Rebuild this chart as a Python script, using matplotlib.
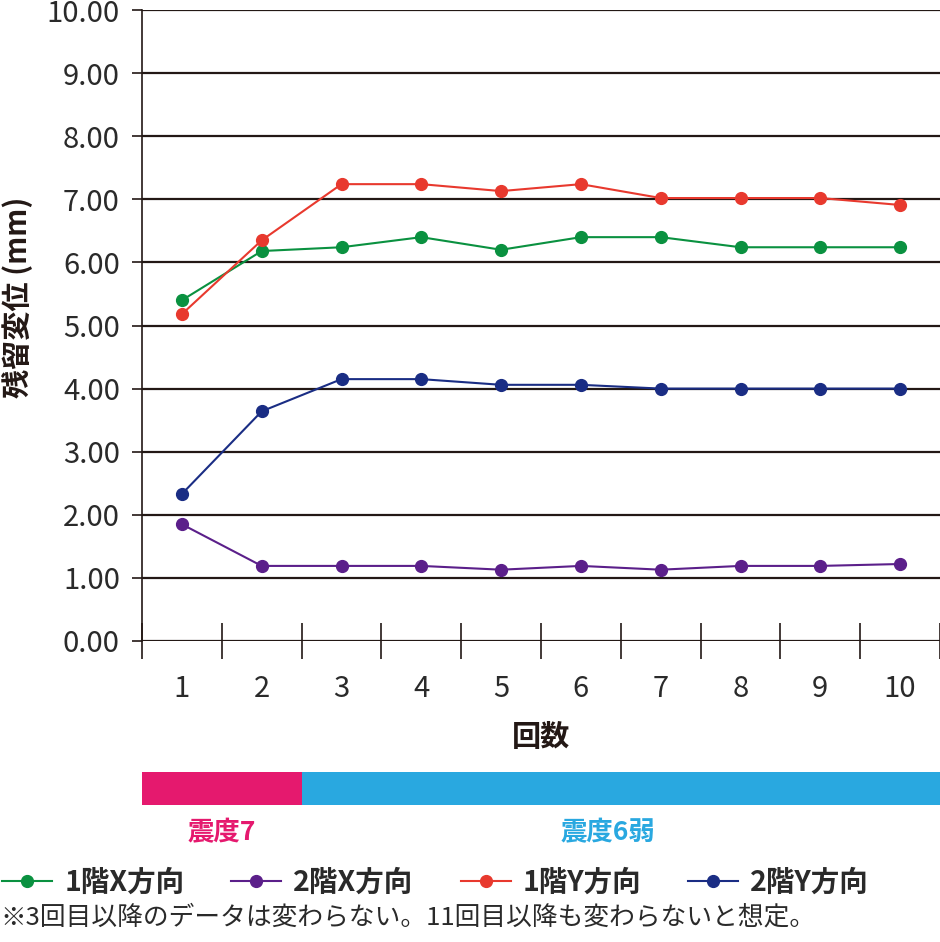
import numpy as np
import matplotlib
matplotlib.use('Agg')
import matplotlib.pyplot as plt
from matplotlib.lines import Line2D

plt.rcParams['font.family'] = ['Noto Sans CJK JP', 'DejaVu Sans']

# data
rounds = list(range(1, 11))
f1_x = [5.40, 6.18, 6.24, 6.40, 6.20, 6.40, 6.40, 6.24, 6.24, 6.24]
f2_x = [1.85, 1.19, 1.19, 1.19, 1.13, 1.19, 1.13, 1.19, 1.19, 1.22]
f1_y = [5.18, 6.35, 7.24, 7.24, 7.13, 7.24, 7.02, 7.02, 7.02, 6.91]
f2_y = [2.33, 3.64, 4.15, 4.15, 4.06, 4.06, 4.00, 4.00, 4.00, 4.00]
series_names = ['1階X方向', '2階X方向', '1階Y方向', '2階Y方向']
y_ticks = [0, 1, 2, 3, 4, 5, 6, 7, 8, 9, 10]
# seismic intensity bands (label, start, end round)
bands = [('震度7', 0.5, 2.5), ('震度6弱', 2.5, 10.5)]

colors = ['#0a9140', '#5b1f8a', '#e8392e', '#1a2d84']
band_colors = ['#e5196e', '#29a8e0']
text_dark = '#2a2a2a'
ink = '#231815'

fig = plt.figure(figsize=(9.4, 9.42), dpi=100)
ax = fig.add_axes([142 / 940, 1 - 641 / 942, 1 - 142 / 940, 631 / 942])

for vals, c, name in zip([f1_x, f2_x, f1_y, f2_y], colors, series_names):
    ax.plot(rounds, vals, color=c, lw=1.5, marker='o', ms=8.5, label=name,
            clip_on=False, zorder=3)

ax.set_xlim(0.5, 10.5)
ax.set_ylim(0, 10)
ax.set_yticks(y_ticks)
ax.set_yticklabels([f'{v:.2f}' for v in y_ticks], fontsize=21, color=text_dark)
ax.tick_params(axis='y', length=7, width=1.2, color=ink, direction='out', pad=9)
for v in y_ticks:
    ax.axhline(v, color=ink, lw=1.6, zorder=1)

# boundary ticks and centred labels
ax.set_xticks(np.arange(0.5, 11, 1))
ax.set_xticklabels([])
ax.tick_params(axis='x', which='major', direction='inout', length=26, width=1.2,
               color=ink)
ax.set_xticks(rounds, minor=True)
ax.set_xticklabels([str(r) for r in rounds], minor=True, fontsize=21, color=text_dark)
ax.tick_params(axis='x', which='minor', length=0, pad=24)
ax.set_xlabel('回数', fontsize=21, fontweight='bold', color=ink, labelpad=13)
ax.set_ylabel('残留変位 (mm)', fontsize=21, fontweight='bold', color=ink)
ax.yaxis.set_label_coords(-0.136, 0.545)

for side in ['top', 'right']:
    ax.spines[side].set_visible(False)
ax.spines['left'].set_color(ink)
ax.spines['left'].set_linewidth(1.2)
ax.spines['bottom'].set_visible(False)

# intensity band
bax = fig.add_axes([142 / 940, 1 - 805 / 942, 1 - 142 / 940, 33 / 942])
bax.set_xlim(0.5, 10.5)
bax.set_ylim(0, 1)
label_shift = [0.0, -0.16]
for (label, a, b), c, s in zip(bands, band_colors, label_shift):
    bax.barh(0.5, b - a, left=a, height=1, color=c)
    bax.text((a + b) / 2 + s, -0.85, label, color=c,
             fontsize=19, fontweight='bold', ha='center', va='center')
bax.axis('off')

handles = [Line2D([0], [0], color=c, lw=1.5, marker='o', ms=8.5) for c in colors]
leg = fig.legend(handles, series_names, loc='center left',
                 bbox_to_anchor=(-0.025, 1 - 883 / 942), ncol=4, frameon=False,
                 handlelength=1.76, handletextpad=0.42, columnspacing=1.65,
                 prop={'size': 20.5, 'weight': 'bold'})
for t in leg.get_texts():
    t.set_color(text_dark)

fig.text(0.0, 1 - 918 / 942, '※3回目以降のデータは変わらない。11回目以降も変わらないと想定。',
         fontsize=18.5, color=text_dark, ha='left', va='center')

fig.savefig('out.png', dpi=100)
